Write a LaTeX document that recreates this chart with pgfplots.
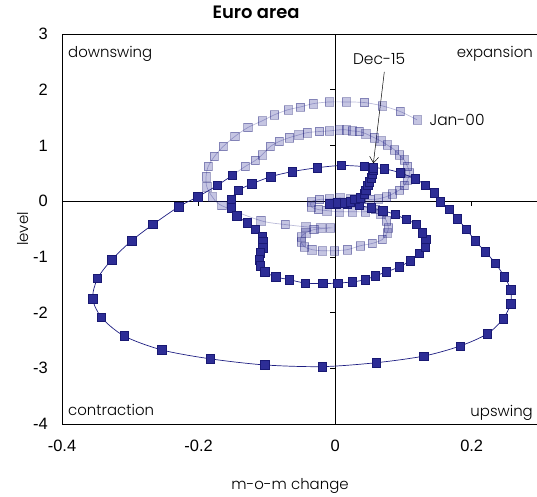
\documentclass[border=0pt]{standalone}
\usepackage{pgfplots}
\pgfplotsset{compat=1.18}
\usetikzlibrary{arrows.meta}
\usepackage{fontspec}
\setmainfont{Poppins}[UprightFont=* Light, BoldFont=* SemiBold]
\newfontfamily\numfont{Liberation Sans}

\definecolor{pathline}{RGB}{30,30,130}
\definecolor{markfill}{RGB}{45,45,150}
\definecolor{markdraw}{RGB}{25,25,115}

% Earlier part of the cycle path (Jan-00 onwards): x = m-o-m change, y = level
\pgfplotstableread{
x y
0.120 1.46
0.095 1.61
0.069 1.71
0.043 1.77
0.016 1.78
-0.009 1.78
-0.032 1.75
-0.051 1.69
-0.069 1.64
-0.089 1.55
-0.107 1.44
-0.128 1.32
-0.147 1.16
-0.164 0.98
-0.177 0.80
-0.186 0.62
-0.189 0.44
-0.188 0.26
-0.180 0.08
-0.166 -0.08
-0.109 -0.35
-0.073 -0.42
-0.043 -0.46
-0.021 -0.48
-0.007 -0.48
-0.031 -0.51
-0.043 -0.57
-0.050 -0.64
-0.050 -0.73
-0.045 -0.82
-0.034 -0.87
-0.019 -0.89
-0.001 -0.89
0.018 -0.87
0.037 -0.80
0.054 -0.76
0.069 -0.69
0.076 -0.57
0.078 -0.48
0.075 -0.35
0.067 -0.23
0.059 -0.15
0.044 -0.19
0.025 -0.19
0.006 -0.19
-0.012 -0.17
-0.025 -0.15
-0.035 -0.10
-0.035 -0.01
-0.023 0.03
-0.009 0.04
0.007 0.06
0.023 0.04
0.038 0.03
0.051 0.03
0.063 0.04
0.075 0.08
0.084 0.13
0.094 0.20
0.101 0.28
0.106 0.38
0.109 0.51
0.106 0.62
0.101 0.74
0.094 0.83
0.087 0.92
0.076 1.01
0.067 1.08
0.057 1.14
0.045 1.21
0.035 1.25
0.025 1.26
0.016 1.28
0.006 1.28
-0.009 1.26
-0.023 1.25
-0.041 1.23
-0.053 1.19
-0.067 1.14
-0.082 1.07
-0.095 0.98
-0.107 0.83
-0.117 0.73
-0.132 0.62
-0.151 0.46
}\earlypath

% Later part of the cycle path, ending Dec-15
\pgfplotstableread{
x y
-0.151 0.46
-0.173 0.28
-0.201 0.08
-0.229 -0.10
-0.267 -0.42
-0.298 -0.71
-0.327 -1.05
-0.348 -1.39
-0.355 -1.75
-0.342 -2.09
-0.309 -2.42
-0.254 -2.67
-0.183 -2.83
-0.103 -2.94
-0.019 -2.97
0.060 -2.90
0.130 -2.78
0.183 -2.60
0.223 -2.38
0.246 -2.11
0.257 -1.84
0.257 -1.59
0.248 -1.36
0.235 -1.12
0.220 -0.91
0.205 -0.71
0.192 -0.50
0.179 -0.32
0.167 -0.15
0.154 -0.01
0.145 0.15
0.132 0.29
0.117 0.40
0.095 0.51
0.072 0.58
0.043 0.62
0.009 0.64
-0.026 0.60
-0.063 0.53
-0.094 0.44
-0.122 0.31
-0.142 0.19
-0.152 0.03
-0.152 -0.12
-0.144 -0.26
-0.129 -0.39
-0.117 -0.51
-0.107 -0.64
-0.106 -0.73
-0.106 -0.84
-0.110 -0.93
-0.111 -1.05
-0.110 -1.16
-0.103 -1.27
-0.087 -1.36
-0.067 -1.41
-0.044 -1.47
-0.018 -1.48
0.004 -1.47
0.025 -1.45
0.044 -1.41
0.059 -1.34
0.075 -1.27
0.094 -1.18
0.110 -1.07
0.123 -0.94
0.132 -0.82
0.133 -0.69
0.128 -0.57
0.119 -0.42
0.104 -0.33
0.088 -0.24
0.070 -0.17
0.053 -0.12
0.035 -0.08
0.018 -0.06
0.001 -0.06
-0.009 -0.05
0.003 -0.03
0.013 -0.03
0.022 -0.01
0.029 0.03
0.037 0.06
0.043 0.13
0.045 0.20
0.048 0.28
0.050 0.35
0.053 0.42
0.054 0.49
0.056 0.55
0.056 0.60
}\latepath

\begin{document}
\begin{tikzpicture}
\begin{axis}[
  name=ax, at={(0,0)}, anchor=south west,
  scale only axis, width=478bp, height=390bp,
  xmin=-0.4, xmax=0.3, ymin=-4, ymax=3,
  xtick={-0.4,-0.2,0,0.2}, ytick={-4,-3,...,3},
  scaled x ticks=false,
  major tick length=0pt,
  axis line style={line width=0.7pt, black},
  /pgf/number format/assume math mode=true,
  tick label style={font=\numfont\fontsize{16.5}{19}\selectfont, inner sep=0pt},
  yticklabel style={anchor=east, xshift=-14bp},
  xticklabel style={anchor=north, yshift=-16bp},
  title={\bfseries Euro area},
  title style={at={(axis description cs:0.406,1.0256)}, anchor=base,
    font=\fontsize{18}{21}\selectfont},
  xlabel={m-o-m change},
  every axis x label/.style={at={(axis description cs:0.477,-0.169)}, anchor=base,
    font=\fontsize{15}{18}\selectfont},
  ylabel={level},
  every axis y label/.style={at={(axis description cs:-0.071,0.5)}, rotate=90,
    anchor=base, font=\fontsize{15}{18}\selectfont},
  clip=false,
]
% zero lines with their tick marks (5bp long, pointing outwards)
\draw[line width=0.7pt, black] (axis cs:-0.4,0) -- (axis cs:0.3,0);
\draw[line width=0.7pt, black] (axis cs:0,-4) -- (axis cs:0,3);
\pgfplotsinvokeforeach{-4,-3,-2,-1,1,2,3}{
  \draw[line width=0.7pt, black] (axis cs:0,#1) -- (axis cs:-0.0073,#1);
}
\pgfplotsinvokeforeach{-0.2,0.2}{
  \draw[line width=0.7pt, black] (axis cs:#1,0) -- (axis cs:#1,-0.09);
}

\addplot[smooth, tension=0.5, draw=pathline, draw opacity=0.3, line width=0.7pt,
  mark=square*, mark size=4.2pt,
  mark options={solid, fill=markfill, draw=markdraw, fill opacity=0.28,
    draw opacity=0.38, line width=0.6pt}]
  table[x=x, y=y] {\earlypath};

\addplot[smooth, tension=0.5, draw=pathline, line width=0.7pt,
  mark=square*, mark size=4.2pt,
  mark options={solid, fill=markfill, draw=markdraw, line width=0.6pt}]
  table[x=x, y=y] {\latepath};

\node[anchor=base west, inner sep=0pt, font=\fontsize{15.5}{18}\selectfont]
  at (axis cs:0.138,1.35) {Jan-00};
\node[anchor=base west, inner sep=0pt, font=\fontsize{15.5}{18}\selectfont]
  at (axis cs:0.026,2.46) {Dec-15};
\draw[-{Straight Barb[length=6bp,width=9bp]}, line width=0.5pt, black]
  (axis cs:0.072,2.32) -- (axis cs:0.056,0.68);
\end{axis}

% quadrant names
\begin{scope}[every node/.style={inner sep=0pt, font=\fontsize{15}{18}\selectfont}]
\node[anchor=base west] at (6bp,366bp) {downswing};
\node[anchor=base east] at (471bp,366.5bp) {expansion};
\node[anchor=base west] at (6bp,9bp) {contraction};
\node[anchor=base east] at (471bp,8bp) {upswing};
\end{scope}

\pgfresetboundingbox
\useasboundingbox (-62bp,-73bp) rectangle (475bp,424bp);
\end{tikzpicture}
\end{document}
